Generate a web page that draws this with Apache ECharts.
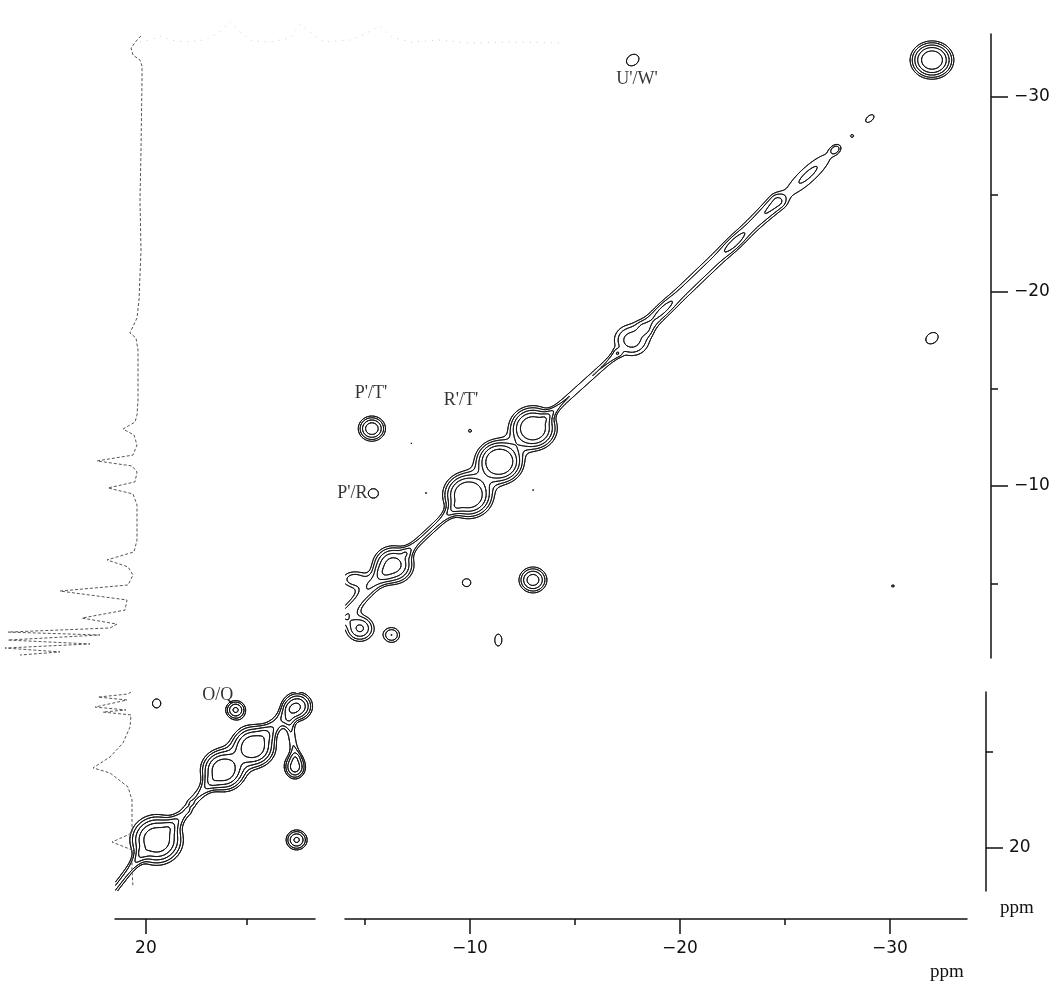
<!DOCTYPE html>
<html><head><meta charset="utf-8">
<script src="https://cdn.jsdelivr.net/npm/echarts@6/dist/echarts.min.js"></script>
<style>html,body{margin:0;padding:0;background:#fff}#c{width:1057px;height:988px}</style>
</head><body><div id="c"></div>
<script>
// ================= DATA (ppm values) =================
const contourLevels = [1, 1.4, 2, 2.8, 4];

// main (upper-right) panel peaks: [x ppm, y ppm, amplitude, width along, width across, angle deg]
const mainPeaks = [
  [-32.0, -31.9, 6, 0.55, 0.52, 0],
  [-17.75, -31.9, 1.3, 0.45, 0.36, 45],
  [-29.05, -28.9, 1.2, 0.35, 0.2, 45],
  [-28.2, -28.0, 1.04, 0.08, 0.08, 0],
  [-26.1, -26.0, 1.5, 1.6, 0.42, 45],
  [-27.4, -27.3, 1.15, 0.2, 0.15, 45],
  [-22.6, -22.5, 0.7, 0.5, 0.2, 45],
  [-19.2, -19.1, 0.6, 0.5, 0.2, 45],
  [-17.7, -17.5, 2.4, 0.62, 0.6, 0],
  [-32.0, -17.6, 1.3, 0.45, 0.35, 45],
  [-5.33, -12.95, 3.7, 0.4, 0.4, 0],
  [-10.0, -12.84, 1.1, 0.15, 0.15, 0],
  [-13.0, -12.97, 6.5, 0.6, 0.6, 0],
  [-11.4, -11.25, 7, 0.6, 0.6, 0],
  [-9.92, -9.54, 7, 0.62, 0.62, 0],
  [-13.0, -9.8, 1.03, 0.08, 0.08, 0],
  [-5.4, -9.62, 1.3, 0.33, 0.33, 0],
  [-7.9, -9.64, 1.03, 0.08, 0.08, 0],
  [-7.2, -12.2, 1.03, 0.08, 0.08, 0],
  [-6.35, -5.94, 5, 0.55, 0.55, 0],
  [-4.5, -5.2, 1.8, 0.5, 0.35, 0],
  [-9.84, -5.03, 1.25, 0.3, 0.3, 0],
  [-13.0, -5.17, 3.5, 0.42, 0.42, 0],
  [-4.76, -2.68, 3, 0.45, 0.45, 0],
  [-6.27, -2.34, 2, 0.32, 0.32, 0],
  [-11.35, -2.08, 1.25, 0.25, 0.45, 0],
  [-30.14, -4.86, 1.1, 0.15, 0.12, 0]
];
// main panel diagonal ridges: [x1, y1, x2, y2, height, width] (ppm)
const mainRidges = [
  [-4.0, -3.3, -5.8, -5.4, 1.7, 0.3],
  [-7.0, -6.6, -9.3, -8.9, 1.5, 0.2],
  [-13.6, -13.5, -17.0, -16.8, 1.4, 0.17],
  [-18.4, -18.2, -24.6, -24.6, 1.7, 0.32]
];

// lower-left panel peaks and ridges
const lowerPeaks = [
  [19.47, 12.47, 1.3, 0.28, 0.32, 0],
  [15.56, 12.81, 3, 0.33, 0.33, 0],
  [12.5, 12.62, 4, 0.45, 0.45, 0],
  [16.17, 15.94, 6, 0.6, 0.6, 0],
  [14.69, 14.72, 6, 0.6, 0.6, 0],
  [12.62, 15.77, 3.5, 0.33, 0.4, 0],
  [12.54, 19.58, 3, 0.35, 0.35, 0],
  [19.47, 19.58, 6, 0.7, 0.7, 0]
];
const lowerRidges = [
  [21.6, 22.2, 20.2, 20.3, 1.5, 0.2],
  [18.8, 18.9, 18.0, 18.1, 1.4, 0.25],
  [17.7, 17.6, 16.8, 16.6, 1.4, 0.25],
  [14.0, 14.0, 12.9, 12.9, 1.6, 0.3],
  [12.9, 13.4, 12.6, 15.2, 1.3, 0.2]
];

// 1D projections: [intensity, ppm]
const upperProjection = [
  [1,-33.14],[5,-32.93],[11,-32.52],[9,-32.16],[2,-31.90],[0,-31.59],[0,-31.29],[0,-30.87],
  [1,-27.28],[2,-24.70],[1,-22.13],[3,-19.56],[5,-18.64],[12,-17.87],[6,-17.61],[4,-16.99],
  [4,-14.42],[5,-13.65],[7,-13.29],[19,-12.93],[8,-12.62],[5,-12.11],[9,-11.59],[45,-11.29],
  [10,-11.03],[5,-10.72],[7,-10.21],[34,-9.90],[9,-9.59],[5,-9.02],[5,-7.22],[8,-6.61],
  [35,-6.20],[14,-5.84],[9,-5.42],[14,-4.91],[82,-4.60],[15,-4.14],[17,-3.62],[60,-3.21],
  [25,-2.90],[32,-2.70],[134,-2.49],[42,-2.34],[134,-2.08],[52,-1.88],[137,-1.67],[82,-1.47],[122,-1.31]
];
const lowerProjection = [
  [11,11.875],[14,11.98],[44,12.14],[15,12.29],[47,12.66],[16,12.81],[39,12.92],[11,13.07],
  [12,13.70],[19,14.53],[32,15.26],[49,15.83],[32,16.09],[14,16.82],[10,17.5],[10,19.22],
  [30,19.69],[10,20.10],[10,21.15],[9,22.03]
];
// faint trace along the top edge: [position, intensity]
const topTrace = [
  [10,8],[20,10],[30,14],[40,10],[55,8],[75,10],[90,18],[100,28],[110,18],[122,9],[140,8],
  [160,12],[170,26],[182,16],[195,8],[220,10],[235,16],[250,24],[262,13],[280,8],[310,10],
  [340,7],[380,8],[430,7]
];

// tick values
const mainXTicks = [-10, -20, -30], mainXMinor = [-5, -15, -25];
const mainYTicks = [-30, -20, -10], mainYMinor = [-25, -15, -5];
const lowerXTicks = [20], lowerXMinor = [15];
const lowerYTicks = [20], lowerYMinor = [15];

// peak annotations [x ppm, y ppm, text]
const mainLabels = [[-17.95, -30.93, "U'/W'"], [-5.29, -14.78, "P'/T'"], [-9.57, -14.42, "R'/T'"], [-4.4, -9.64, "P'/R"]];
const lowerLabels = [[16.44, 12.03, 'O/Q']];

// ================= axis ranges =================
const MAIN = {xMin: -34.81, xMax: -4.05, yMin: -33.24, yMax: -1.157};
const MAINX = {xMin: -33.67, xMax: -4.05};
const LOW = {xMin: 11.63, xMax: 21.53, yMin: 11.875, yMax: 22.24};

// ================= contour computation =================
function computeField(peaks, ridges, r, step) {
  const nx = Math.floor((r.xMax - r.xMin) / step) + 1;
  const ny = Math.floor((r.yMax - r.yMin) / step) + 1;
  const F = new Float64Array(nx * ny);
  const clampI = v => Math.max(0, Math.min(nx - 1, v));
  const clampJ = v => Math.max(0, Math.min(ny - 1, v));
  peaks.forEach(p => {
    const [cx, cy, A, sa, sb, ang] = p;
    const th = ang * Math.PI / 180, c = Math.cos(th), s = Math.sin(th);
    const R = 4.5 * Math.max(sa, sb);
    const i0 = clampI(Math.floor((cx - R - r.xMin) / step)), i1 = clampI(Math.ceil((cx + R - r.xMin) / step));
    const j0 = clampJ(Math.floor((cy - R - r.yMin) / step)), j1 = clampJ(Math.ceil((cy + R - r.yMin) / step));
    for (let j = j0; j <= j1; j++) {
      const y = r.yMin + j * step;
      for (let i = i0; i <= i1; i++) {
        const x = r.xMin + i * step;
        const dx = x - cx, dy = y - cy;
        const u = dx * c + dy * s, v = -dx * s + dy * c;
        F[j * nx + i] += A * Math.exp(-(u * u / (2 * sa * sa) + v * v / (2 * sb * sb)));
      }
    }
  });
  ridges.forEach(q => {
    const [xa, ya, xb, yb, h, w] = q;
    const R = 4.5 * w;
    const ex = xb - xa, ey = yb - ya, L2 = ex * ex + ey * ey;
    const i0 = clampI(Math.floor((Math.min(xa, xb) - R - r.xMin) / step)), i1 = clampI(Math.ceil((Math.max(xa, xb) + R - r.xMin) / step));
    const j0 = clampJ(Math.floor((Math.min(ya, yb) - R - r.yMin) / step)), j1 = clampJ(Math.ceil((Math.max(ya, yb) + R - r.yMin) / step));
    for (let j = j0; j <= j1; j++) {
      const y = r.yMin + j * step;
      for (let i = i0; i <= i1; i++) {
        const x = r.xMin + i * step;
        let t = ((x - xa) * ex + (y - ya) * ey) / L2;
        t = Math.max(0, Math.min(1, t));
        const px = xa + t * ex, py = ya + t * ey;
        const d2 = (x - px) * (x - px) + (y - py) * (y - py);
        F[j * nx + i] += h * Math.exp(-d2 / (2 * w * w));
      }
    }
  });
  return {F, nx, ny, x0: r.xMin, y0: r.yMin, step};
}

function marching(fd, L) {
  const {F, nx, ny, x0, y0, step} = fd;
  const out = [];
  const lerp = (a, b, va, vb) => a + (b - a) * (L - va) / (vb - va);
  for (let j = 0; j < ny - 1; j++) {
    const ya = y0 + j * step, yb = ya + step;
    for (let i = 0; i < nx - 1; i++) {
      const a = F[j * nx + i], b = F[j * nx + i + 1], c = F[(j + 1) * nx + i + 1], d = F[(j + 1) * nx + i];
      const idx = (a >= L ? 1 : 0) | (b >= L ? 2 : 0) | (c >= L ? 4 : 0) | (d >= L ? 8 : 0);
      if (idx === 0 || idx === 15) continue;
      const xa = x0 + i * step, xb = xa + step;
      const E = [
        () => [lerp(xa, xb, a, b), ya],
        () => [xb, lerp(ya, yb, b, c)],
        () => [lerp(xb, xa, c, d), yb],
        () => [xa, lerp(yb, ya, d, a)]
      ];
      let pairs;
      const center = (a + b + c + d) / 4;
      switch (idx) {
        case 1: case 14: pairs = [[3, 0]]; break;
        case 2: case 13: pairs = [[0, 1]]; break;
        case 3: case 12: pairs = [[3, 1]]; break;
        case 4: case 11: pairs = [[1, 2]]; break;
        case 6: case 9: pairs = [[0, 2]]; break;
        case 7: case 8: pairs = [[2, 3]]; break;
        case 5: pairs = center >= L ? [[0, 1], [2, 3]] : [[3, 0], [1, 2]]; break;
        case 10: pairs = center >= L ? [[0, 3], [1, 2]] : [[0, 1], [2, 3]]; break;
      }
      pairs.forEach(pr => { const p = E[pr[0]](), q = E[pr[1]](); out.push(p[0], p[1], q[0], q[1]); });
    }
  }
  return out;
}

const mainField = computeField(mainPeaks, mainRidges, MAIN, 0.05);
const lowField = computeField(lowerPeaks, lowerRidges, LOW, 0.04);
const mainSegs = contourLevels.map(L => marching(mainField, L));
const lowSegs = contourLevels.map(L => marching(lowField, L));

function contourSeries(segStore, xi, yi, r) {
  return {
    type: 'custom', xAxisIndex: xi, yAxisIndex: yi, silent: true, clip: true,
    data: segStore.map((s, k) => [(r.xMin + r.xMax) / 2, (r.yMin + r.yMax) / 2, k]),
    encode: {x: 0, y: 1},
    renderItem: function (params, api) {
      const segs = segStore[params.dataIndex];
      let d = '';
      for (let s = 0; s < segs.length; s += 4) {
        const p = api.coord([segs[s], segs[s + 1]]);
        const q = api.coord([segs[s + 2], segs[s + 3]]);
        d += 'M' + p[0].toFixed(2) + ' ' + p[1].toFixed(2) + 'L' + q[0].toFixed(2) + ' ' + q[1].toFixed(2);
      }
      return {type: 'path', shape: {pathData: d}, style: {fill: 'none', stroke: '#161616', lineWidth: 1, lineCap: 'round'}};
    }
  };
}

// ================= chart =================
const minus = v => String(v).replace('-', '\u2212');
const tickFont = {fontFamily: 'DejaVu Sans', fontSize: 17, color: '#111'};
const black = {color: '#111', width: 1.5};
const peakLabel = {show: true, position: 'inside', formatter: p => p.value[2], fontFamily: 'Liberation Serif', fontSize: 18, color: '#000'};

function majorAxis(extra) {
  return Object.assign({
    type: 'value', splitLine: {show: false},
    axisLine: {show: true, lineStyle: black}, axisTick: {show: true, lineStyle: black},
    axisLabel: Object.assign({show: true, formatter: minus}, tickFont)
  }, extra);
}
function minorAxis(extra) {
  return Object.assign({
    type: 'value', splitLine: {show: false}, axisLine: {show: false},
    axisTick: {show: true, length: 6, lineStyle: black}, axisLabel: {show: false}
  }, extra);
}
function hiddenAxis(extra) { return Object.assign({type: 'value', show: false, splitLine: {show: false}}, extra); }

const option = {
  animation: false,
  backgroundColor: '#fff',
  grid: [
    {left: 345, top: 34, width: 646, height: 624},
    {left: 345, top: 900, width: 622, height: 19},
    {left: 115, top: 692, width: 200, height: 199},
    {left: 0, top: 34, width: 142, height: 624},
    {left: 0, top: 692, width: 142, height: 199},
    {left: 130, top: 0, width: 440, height: 50}
  ],
  xAxis: [
    hiddenAxis({gridIndex: 0, min: MAIN.xMin, max: MAIN.xMax, inverse: true}),
    majorAxis({gridIndex: 1, min: MAINX.xMin, max: MAINX.xMax, inverse: true, position: 'bottom',
      axisTick: {show: true, length: 15, customValues: mainXTicks, lineStyle: black},
      axisLabel: Object.assign({show: true, formatter: minus, margin: 21, customValues: mainXTicks}, tickFont)}),
    minorAxis({gridIndex: 1, min: MAINX.xMin, max: MAINX.xMax, inverse: true, position: 'bottom',
      axisTick: {show: true, length: 6, customValues: mainXMinor, lineStyle: black}}),
    majorAxis({gridIndex: 2, min: LOW.xMin, max: LOW.xMax, inverse: true, position: 'bottom', offset: 28,
      axisTick: {show: true, length: 15, customValues: lowerXTicks, lineStyle: black},
      axisLabel: Object.assign({show: true, formatter: minus, margin: 21, customValues: lowerXTicks}, tickFont)}),
    minorAxis({gridIndex: 2, min: LOW.xMin, max: LOW.xMax, inverse: true, position: 'bottom', offset: 28,
      axisTick: {show: true, length: 6, customValues: lowerXMinor, lineStyle: black}}),
    hiddenAxis({gridIndex: 3, min: 0, max: 142, inverse: true}),
    hiddenAxis({gridIndex: 4, min: 0, max: 142, inverse: true}),
    hiddenAxis({gridIndex: 5, min: 0, max: 440})
  ],
  yAxis: [
    majorAxis({gridIndex: 0, min: MAIN.yMin, max: MAIN.yMax, inverse: true, position: 'right',
      axisTick: {show: true, length: 17, customValues: mainYTicks, lineStyle: black},
      axisLabel: Object.assign({show: true, formatter: minus, margin: 23, customValues: mainYTicks}, tickFont)}),
    minorAxis({gridIndex: 0, min: MAIN.yMin, max: MAIN.yMax, inverse: true, position: 'right',
      axisTick: {show: true, length: 7, customValues: mainYMinor, lineStyle: black}}),
    hiddenAxis({gridIndex: 1, min: 0, max: 1}),
    majorAxis({gridIndex: 2, min: LOW.yMin, max: LOW.yMax, inverse: true, position: 'right', offset: 671,
      axisTick: {show: true, length: 17, customValues: lowerYTicks, lineStyle: black},
      axisLabel: Object.assign({show: true, formatter: minus, margin: 23, customValues: lowerYTicks}, tickFont)}),
    minorAxis({gridIndex: 2, min: LOW.yMin, max: LOW.yMax, inverse: true, position: 'right', offset: 671,
      axisTick: {show: true, length: 7, customValues: lowerYMinor, lineStyle: black}}),
    hiddenAxis({gridIndex: 3, min: MAIN.yMin, max: MAIN.yMax, inverse: true}),
    hiddenAxis({gridIndex: 4, min: LOW.yMin, max: LOW.yMax, inverse: true}),
    hiddenAxis({gridIndex: 5, min: 0, max: 50})
  ],
  series: [
    contourSeries(mainSegs, 0, 0, MAIN),
    contourSeries(lowSegs, 3, 3, LOW),
    {type: 'line', xAxisIndex: 5, yAxisIndex: 5, data: upperProjection, showSymbol: false, symbol: 'none', silent: true,
      lineStyle: {color: '#555', width: 1, type: [3, 2]}},
    {type: 'line', xAxisIndex: 6, yAxisIndex: 6, data: lowerProjection, showSymbol: false, symbol: 'none', silent: true,
      lineStyle: {color: '#555', width: 1, type: [3, 2]}},
    {type: 'line', xAxisIndex: 7, yAxisIndex: 7, data: topTrace, showSymbol: false, symbol: 'none', silent: true,
      lineStyle: {color: '#cfcfcf', width: 1, type: [1, 6]}},
    {type: 'scatter', xAxisIndex: 0, yAxisIndex: 0, data: mainLabels, symbolSize: 1, silent: true, clip: false,
      itemStyle: {color: 'rgba(0,0,0,0)'}, label: peakLabel},
    {type: 'scatter', xAxisIndex: 3, yAxisIndex: 3, data: lowerLabels, symbolSize: 1, silent: true, clip: false,
      itemStyle: {color: 'rgba(0,0,0,0)'}, label: peakLabel}
  ],
  graphic: [
    {type: 'text', left: 1000, top: 899, style: {text: 'ppm', font: '19px "Liberation Serif"', fill: '#111'}},
    {type: 'text', left: 930, top: 963, style: {text: 'ppm', font: '19px "Liberation Serif"', fill: '#111'}}
  ]
};
const chart = echarts.init(document.getElementById('c'), null, {renderer: 'canvas'});
chart.setOption(option);
</script></body></html>
